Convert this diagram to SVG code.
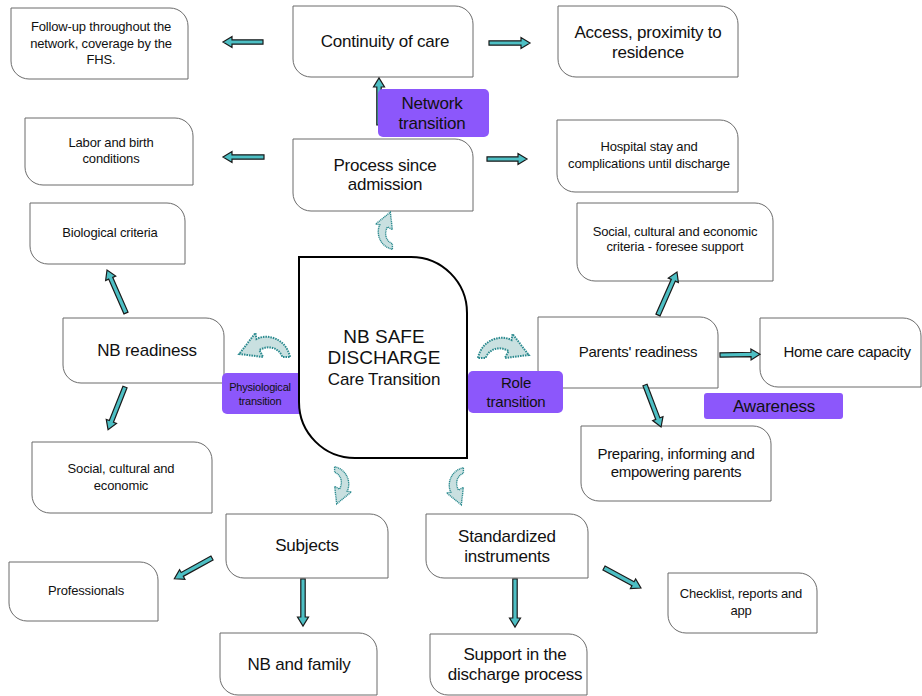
<svg xmlns="http://www.w3.org/2000/svg" width="922" height="696" viewBox="0 0 922 696">
<style>
.box{fill:#fff;stroke:#6b6b6b;stroke-width:1}
.main{fill:#fff;stroke:#000;stroke-width:2}
.pur{fill:#8c57fb}
.t{font-family:"Liberation Sans",Arial,sans-serif;fill:#111;text-anchor:middle}
.s12{font-size:13px;letter-spacing:-0.15px}
.s14{font-size:15px;letter-spacing:-0.3px}
.s16{font-size:17px;letter-spacing:-0.2px}
.arr{fill:#4dbfc4;stroke:#1a1a1a;stroke-width:1.2;stroke-linejoin:miter}
.cur{fill:#c9e0e0;stroke:#2b8a8f;stroke-width:2;stroke-dasharray:1.6 1}
</style>
<defs>
<path id="curve" d="M1 22 C5 4 24 -2 36 4 L37 -2 L54 19 L29 22 L33 15 C24 10 13 12 9 22 Z"/>
</defs>
<rect width="922" height="696" fill="#fff"/>
<g id="followup"><path class="box" d="M11,8 H170 A18,18 0 0 1 188,26 V79 H29 A18,18 0 0 1 11,61 Z"/>
<text class="t s12" x="101" y="31">Follow-up throughout the</text><text class="t s12" x="101" y="48">network, coverage by the</text><text class="t s12" x="101" y="64">FHS.</text></g>
<g id="continuity"><path class="box" d="M293,6 H455 A18,18 0 0 1 473,24 V77 H311 A18,18 0 0 1 293,59 Z"/>
<text class="t s16" x="385" y="47">Continuity of care</text></g>
<g id="access"><path class="box" d="M558,6 H720 A18,18 0 0 1 738,24 V77 H576 A18,18 0 0 1 558,59 Z"/>
<text class="t s16" x="648" y="38">Access, proximity to</text><text class="t s16" x="648" y="58">residence</text></g>
<g id="labor"><path class="box" d="M25,118 H175 A18,18 0 0 1 193,136 V185 H43 A18,18 0 0 1 25,167 Z"/>
<text class="t s12" x="111" y="147">Labor and birth</text><text class="t s12" x="111" y="163">conditions</text></g>
<g id="process"><path class="box" d="M293,139 H455 A18,18 0 0 1 473,157 V211 H311 A18,18 0 0 1 293,193 Z"/>
<text class="t s16" x="385" y="171">Process since</text><text class="t s16" x="385" y="190">admission</text></g>
<g id="hospital"><path class="box" d="M557,120 H720 A18,18 0 0 1 738,138 V192 H575 A18,18 0 0 1 557,174 Z"/>
<text class="t s12" x="649" y="151">Hospital stay and</text><text class="t s12" x="649" y="168">complications until discharge</text></g>
<g id="biological"><path class="box" d="M30,203 H167 A18,18 0 0 1 185,221 V264 H48 A18,18 0 0 1 30,246 Z"/>
<text class="t s12" x="110" y="237">Biological criteria</text></g>
<g id="socialcrit"><path class="box" d="M577,203 H755 A18,18 0 0 1 773,221 V281 H595 A18,18 0 0 1 577,263 Z"/>
<text class="t s12" x="675" y="236">Social, cultural and economic</text><text class="t s12" x="675" y="251">criteria - foresee support</text></g>
<g id="nbreadiness"><path class="box" d="M63,318 H206 A18,18 0 0 1 224,336 V383 H81 A18,18 0 0 1 63,365 Z"/>
<text class="t s16" x="147" y="356">NB readiness</text></g>
<g id="parents"><path class="box" d="M538,317 H700 A18,18 0 0 1 718,335 V388 H556 A18,18 0 0 1 538,370 Z"/>
<text class="t s14" x="638" y="357">Parents' readiness</text></g>
<g id="homecare"><path class="box" d="M760,318 H903 A18,18 0 0 1 921,336 V387 H778 A18,18 0 0 1 760,369 Z"/>
<text class="t s14" x="847" y="357">Home care capacity</text></g>
<g id="preparing"><path class="box" d="M581,426 H753 A18,18 0 0 1 771,444 V501 H599 A18,18 0 0 1 581,483 Z"/>
<text class="t s14" x="676" y="459">Preparing, informing and</text><text class="t s14" x="676" y="477">empowering parents</text></g>
<g id="socialecon"><path class="box" d="M32,442 H194 A18,18 0 0 1 212,460 V513 H50 A18,18 0 0 1 32,495 Z"/>
<text class="t s12" x="121" y="473">Social, cultural and</text><text class="t s12" x="121" y="490">economic</text></g>
<g id="subjects"><path class="box" d="M226,514 H370 A18,18 0 0 1 388,532 V578 H244 A18,18 0 0 1 226,560 Z"/>
<text class="t s16" x="307" y="551">Subjects</text></g>
<g id="standardized"><path class="box" d="M426,514 H570 A18,18 0 0 1 588,532 V578 H444 A18,18 0 0 1 426,560 Z"/>
<text class="t s16" x="507" y="542">Standardized</text><text class="t s16" x="507" y="562">instruments</text></g>
<g id="professionals"><path class="box" d="M9,562 H140 A18,18 0 0 1 158,580 V621 H27 A18,18 0 0 1 9,603 Z"/>
<text class="t s12" x="86" y="595">Professionals</text></g>
<g id="checklist"><path class="box" d="M668,573 H799 A18,18 0 0 1 817,591 V633 H686 A18,18 0 0 1 668,615 Z"/>
<text class="t s12" x="741" y="598">Checklist, reports and</text><text class="t s12" x="741" y="615">app</text></g>
<g id="nbfamily"><path class="box" d="M220,633 H359 A18,18 0 0 1 377,651 V695 H238 A18,18 0 0 1 220,677 Z"/>
<text class="t s16" x="299" y="670">NB and family</text></g>
<g id="support"><path class="box" d="M430,634 H569 A18,18 0 0 1 587,652 V695 H448 A18,18 0 0 1 430,677 Z"/>
<text class="t s16" x="515" y="660">Support in the</text><text class="t s16" x="515" y="680">discharge process</text></g>
<g id="connectors">
<path class="arr" transform="translate(263,42) rotate(180)" d="M0,-2.2 H31 V-5.5 L40,0 L31,5.5 V2.2 H0 Z"/>
<path class="arr" transform="translate(489,43)" d="M0,-2.2 H32 V-5.5 L41,0 L32,5.5 V2.2 H0 Z"/>
<path class="arr" transform="translate(264,157) rotate(180)" d="M0,-2.2 H32 V-5.5 L41,0 L32,5.5 V2.2 H0 Z"/>
<path class="arr" transform="translate(487,159)" d="M0,-2.2 H31 V-5.5 L40,0 L31,5.5 V2.2 H0 Z"/>
<path class="arr" transform="translate(379,125) rotate(-90)" d="M0,-2.2 H38 V-5.5 L47,0 L38,5.5 V2.2 H0 Z"/>
<path class="arr" transform="translate(126,313) rotate(-113.8)" d="M0,-2.2 H38 V-5.5 L47,0 L38,5.5 V2.2 H0 Z"/>
<path class="arr" transform="translate(125,387) rotate(111.6)" d="M0,-2.2 H37 V-5.5 L46,0 L37,5.5 V2.2 H0 Z"/>
<path class="arr" transform="translate(658,315) rotate(-66.2)" d="M0,-2.2 H38 V-5.5 L47,0 L38,5.5 V2.2 H0 Z"/>
<path class="arr" transform="translate(720,355) rotate(-1)" d="M0,-2.2 H31 V-5.5 L40,0 L31,5.5 V2.2 H0 Z"/>
<path class="arr" transform="translate(645,385) rotate(69.1)" d="M0,-2.2 H36 V-5.5 L45,0 L36,5.5 V2.2 H0 Z"/>
<path class="arr" transform="translate(212,558) rotate(151.1)" d="M0,-2.2 H34 V-5.5 L43,0 L34,5.5 V2.2 H0 Z"/>
<path class="arr" transform="translate(303,579) rotate(90)" d="M0,-2.2 H38 V-5.5 L47,0 L38,5.5 V2.2 H0 Z"/>
<path class="arr" transform="translate(515,579) rotate(90)" d="M0,-2.2 H39 V-5.5 L48,0 L39,5.5 V2.2 H0 Z"/>
<path class="arr" transform="translate(604,568) rotate(28.4)" d="M0,-2.2 H33 V-5.5 L42,0 L33,5.5 V2.2 H0 Z"/>
<use href="#curve" class="cur" transform="translate(377,250) rotate(-90) scale(0.7)"/>
<use href="#curve" class="cur" transform="translate(350,466) rotate(90) scale(0.7)"/>
<use href="#curve" class="cur" transform="translate(448,467) scale(-1,1) rotate(90) scale(0.7)"/>
<use href="#curve" class="cur" transform="translate(291,335) scale(-0.96,1)"/>
<use href="#curve" class="cur" transform="translate(477,336) scale(0.96,1)"/>
</g>
<g id="physiological"><rect class="pur" x="222" y="373" width="82" height="41" rx="5"/>
<text class="t" style="font-size:11px;letter-spacing:-0.2px" x="260" y="391">Physiological</text><text class="t" style="font-size:11px;letter-spacing:-0.2px" x="260" y="405">transition</text></g>
<g id="center"><path class="main" d="M299,257 H411 A56,56 0 0 1 467,313 V458 H355 A56,56 0 0 1 299,402 Z"/>
<text class="t" style="font-size:19px" x="384" y="343">NB SAFE</text><text class="t" style="font-size:19px" x="384" y="364">DISCHARGE</text><text class="t" style="font-size:17px;letter-spacing:-0.2px" x="384" y="385">Care Transition</text></g>
<g id="role"><rect class="pur" x="468" y="371" width="95" height="42" rx="5"/>
<text class="t" style="font-size:15px;letter-spacing:-0.2px" x="516" y="388">Role</text><text class="t" style="font-size:15px;letter-spacing:-0.2px" x="516" y="407">transition</text></g>
<g id="network"><rect class="pur" x="378" y="89" width="111" height="48" rx="5"/>
<text class="t s16" x="432" y="109">Network</text><text class="t s16" x="432" y="129">transition</text></g>
<g id="awareness"><rect class="pur" x="704" y="393" width="139" height="26" rx="3"/>
<text class="t s16" x="774" y="412">Awareness</text></g>
</svg>
